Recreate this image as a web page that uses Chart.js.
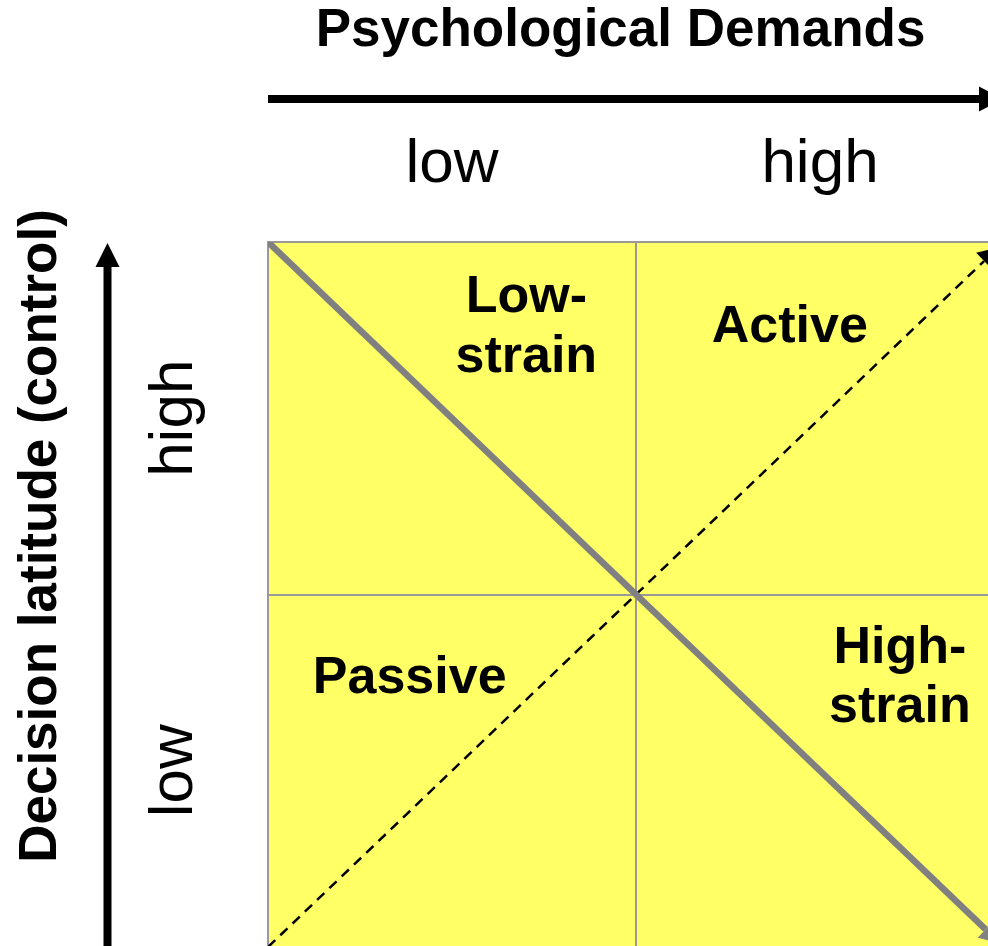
<!DOCTYPE html>
<html><head><meta charset="utf-8">
<script src="https://cdn.jsdelivr.net/npm/chart.js@4/dist/chart.umd.min.js"></script>
<style>
html,body{margin:0;padding:0;background:#fff;overflow:hidden}
#wrap{width:988px;height:946px;overflow:hidden;position:relative}
#c{display:block;width:1006px;height:948px}
</style></head><body>
<div id="wrap"><canvas id="c" width="1006" height="948"></canvas></div>
<script>
// ---- data ----
const xTitle = 'Psychological Demands';
const yTitle = 'Decision latitude (control)';
const xCategories = ['low', 'high'];
const yCategories = ['low', 'high'];
const quadrantNames = [['Low-', 'strain'], ['Active'], ['Passive'], ['High-', 'strain']];
const quadrantX = [0.702, 1.418, 0.385, 1.717];
const quadrantY = [1.757, 1.757, 0.762, 0.762];
const strainLine = [{x: 0, y: 2}, {x: 1.95, y: 0.05}];      // grey diagonal (strain)
const learningLine = [{x: 0, y: 0}, {x: 1.946, y: 1.946}];  // dashed diagonal (learning)

const FONT = '"Liberation Sans", Arial, sans-serif';
const GRID = '#999999';
const YELLOW = '#FFFF66';

function arrowHead(ctx, x0, y0, x1, y1, len, width, color) {
  const a = Math.atan2(y1 - y0, x1 - x0);
  ctx.save();
  ctx.translate(x1, y1);
  ctx.rotate(a);
  ctx.fillStyle = color;
  ctx.beginPath();
  ctx.moveTo(len, 0);
  ctx.lineTo(0, -width / 2);
  ctx.lineTo(0, width / 2);
  ctx.closePath();
  ctx.fill();
  ctx.restore();
}

function noPad(s) {
  s.paddingLeft = 0; s.paddingRight = 0; s.paddingTop = 0; s.paddingBottom = 0;
}

const decor = {
  id: 'decor',
  beforeDraw(chart) {
    const {ctx, chartArea: a} = chart;
    ctx.save();
    ctx.fillStyle = '#fff';
    ctx.fillRect(0, 0, chart.width, chart.height);
    ctx.fillStyle = YELLOW;
    ctx.fillRect(a.left, a.top, a.right - a.left, a.bottom - a.top);
    ctx.restore();
  },
  afterDatasetsDraw(chart) {
    const {ctx} = chart;
    chart.data.datasets.forEach((ds, i) => {
      const pts = chart.getDatasetMeta(i).data;
      const p0 = pts[pts.length - 2], p1 = pts[pts.length - 1];
      arrowHead(ctx, p0.x, p0.y, p1.x, p1.y, 20, 23, ds.headColor);
    });
    const sx = chart.scales.dx, sy = chart.scales.dy;
    ctx.save();
    ctx.fillStyle = '#000';
    ctx.font = 'bold 52px ' + FONT;
    ctx.textAlign = 'center';
    ctx.textBaseline = 'middle';
    quadrantNames.forEach((lines, i) => {
      const cx = sx.getPixelForValue(quadrantX[i]);
      const cy = sy.getPixelForValue(quadrantY[i]);
      const lh = 59.5;
      lines.forEach((t, j) => {
        ctx.fillText(t, cx, cy + (j - (lines.length - 1) / 2) * lh);
      });
    });
    ctx.restore();
  },
  afterDraw(chart) {
    const {ctx, chartArea: a} = chart;
    ctx.save();
    ctx.fillStyle = '#000';
    // horizontal axis arrow
    const ay = a.top - 143;
    ctx.fillRect(a.left, ay - 4, 712, 8);
    arrowHead(ctx, a.left, ay, a.left + 711, ay, 24, 25, '#000');
    // vertical axis arrow
    const ax = 107.5;
    ctx.fillRect(ax - 4, a.top + 23, 8, a.bottom - a.top);
    arrowHead(ctx, ax, a.bottom, ax, a.top + 25, 24, 24, '#000');
    // titles
    ctx.font = 'bold 53px ' + FONT;
    ctx.textAlign = 'center';
    ctx.textBaseline = 'middle';
    ctx.fillText(xTitle, 620.5, 31);
    ctx.translate(41, 536);
    ctx.rotate(-Math.PI / 2);
    ctx.fillText(yTitle, 0, 0);
    ctx.restore();
  }
};

new Chart(document.getElementById('c'), {
  type: 'scatter',
  data: {
    datasets: [
      {
        data: strainLine, xAxisID: 'dx', yAxisID: 'dy', showLine: true,
        borderColor: '#808080', borderWidth: 6.5, pointRadius: 0, headColor: '#808080',
        borderCapStyle: 'butt'
      },
      {
        data: learningLine, xAxisID: 'dx', yAxisID: 'dy', showLine: true,
        borderColor: '#000000', borderWidth: 2.5, borderDash: [10, 7], pointRadius: 0, headColor: '#000000'
      }
    ]
  },
  options: {
    responsive: false,
    maintainAspectRatio: false,
    animation: false,
    devicePixelRatio: 1,
    layout: {padding: {left: 0, top: 0, right: 2, bottom: 1}},
    plugins: {legend: {display: false}, tooltip: {enabled: false}, title: {display: false}},
    scales: {
      x: {
        type: 'category', labels: xCategories, position: 'top', offset: true,
        grid: {offset: true, color: GRID, lineWidth: 2, drawTicks: false},
        border: {display: true, color: GRID, width: 2},
        ticks: {color: '#000', font: {family: FONT, size: 62}, padding: 40},
        afterFit(s) { s.height = 242; noPad(s); }
      },
      y: {
        type: 'category', labels: yCategories, position: 'left', offset: true, reverse: true,
        grid: {offset: true, color: GRID, lineWidth: 2, drawTicks: false},
        border: {display: true, color: GRID, width: 2},
        ticks: {color: '#000', font: {family: FONT, size: 62}, padding: 34, minRotation: 90, maxRotation: 90, crossAlign: 'center'},
        afterFit(s) { s.width = 268; noPad(s); }
      },
      dx: {type: 'linear', display: false, min: 0, max: 2, afterFit: noPad},
      dy: {type: 'linear', display: false, min: 0, max: 2, afterFit: noPad}
    }
  },
  plugins: [decor]
});
</script>
</body></html>
